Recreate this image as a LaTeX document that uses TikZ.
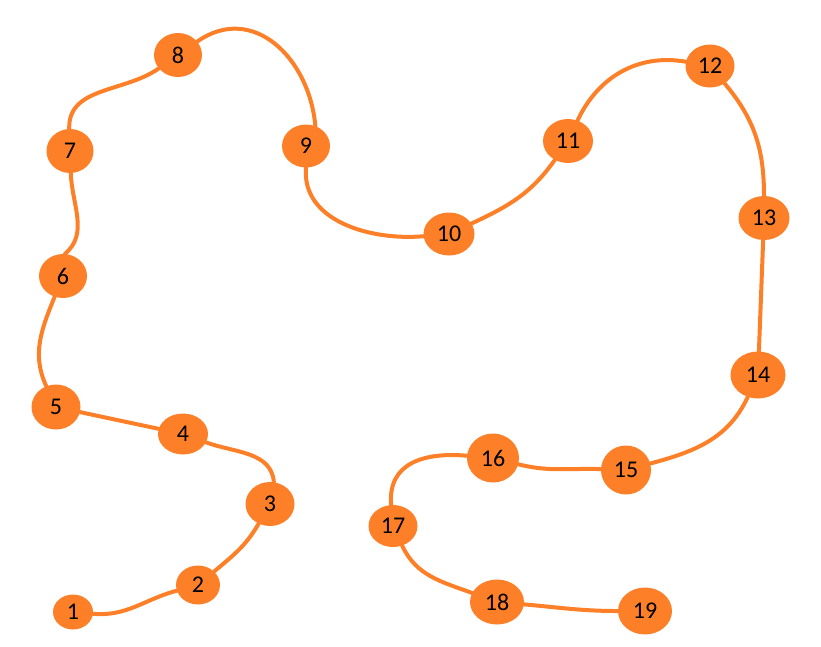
\documentclass[tikz,border=0pt]{standalone}
\usepackage{fontspec}
\setmainfont{Carlito}
\usetikzlibrary{shapes.geometric}
\definecolor{chainorange}{RGB}{253,128,40}
\begin{document}
\begin{tikzpicture}[x=1pt, y=1pt, line join=round, line cap=round,
    dot/.style={ellipse, fill=chainorange, inner sep=0pt, font=\fontsize{24}{28}\selectfont},
    link/.style={draw=chainorange, line width=4pt}]
    \useasboundingbox (0,0) rectangle (821,-646);
    % beads: number/x/y/width/height
    \foreach \n/\x/\y/\w/\h in {1/73/612/40/35, 2/198/585/44/39, 3/270/504/49/44, 4/183/434/50/41,
        5/56/407/49/45, 6/63/276/48/44, 7/70/151/47/44, 8/178/55/48/44, 9/306/146/48/43,
        10/449/234/51/43, 11/568/141/50/44, 12/710/66/49/43, 13/764/218/51/44, 14/758/375/55/47,
        15/626/470/50/49, 16/493/458/52/49, 17/393/526/49/42, 18/497/602/54/45, 19/645/611/54/47}
        \node[dot, minimum width=\w pt, minimum height=\h pt] (n\n) at (\x,-\y) {\n};
    % the string
    \draw[link] (n1) to[out=-5,in=195] (n2) to[out=40,in=-120] (n3)
        (n3.80) to[out=95,in=-20] (n4) -- (n5) to[out=115,in=-112] (n6)
        (n6.85) to[out=40,in=-88] (n7) to[out=92,in=-145] (n8)
        to[out=35,in=95,looseness=1.2] (n9.65)
        (n9.-90) to[out=-95,in=185] (n10) to[out=25,in=-125] (n11)
        to[out=65,in=170] (n12) to[out=-50,in=90] (n13) -- (n14) to[out=-115,in=15] (n15)
        to[out=178,in=-14] (n16) to[out=175,in=95,looseness=1.2] (n17) to[out=-65,in=160] (n18)
        to[out=-5,in=180] (n19);
\end{tikzpicture}
\end{document}
